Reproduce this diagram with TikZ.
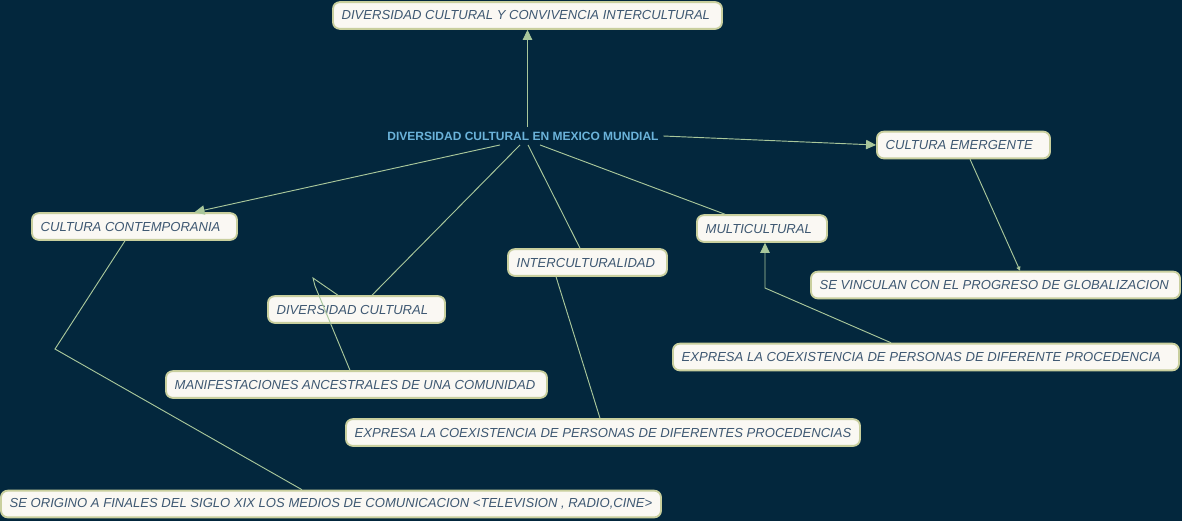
\documentclass[tikz,border=0pt]{standalone}
\usepackage{fontspec}
\setmainfont{Liberation Sans}
\usetikzlibrary{arrows.meta,positioning}
\definecolor{mpBack}{HTML}{03273D}
\definecolor{mpFill}{HTML}{FAF8F3}
\definecolor{mpEdge}{HTML}{C9CF9E}
\definecolor{mpText}{HTML}{3E5872}
\definecolor{mpHead}{HTML}{6BB3DA}
\definecolor{mpLine}{HTML}{A9C79B}

\begin{document}
\begin{tikzpicture}[x=0.75pt,y=-0.75pt,
  idea/.style={draw=mpEdge,fill=mpFill,line width=1.4pt,rounded corners=5pt,
    text width=#1-13pt,align=flush left,minimum height=20pt,inner xsep=6.5pt,inner ysep=0pt,text=mpText,
    font=\fontsize{9.8}{11}\selectfont\itshape},
  link/.style={mpLine,line width=0.7pt},
  arr/.style={link,-{Triangle[width=7pt,length=7.5pt]}}]
\fill[mpBack] (0,0) rectangle (1182,521);
\node[font=\fontsize{9}{10}\selectfont\bfseries,text=mpHead] (main) at (523,136) {DIVERSIDAD CULTURAL EN MEXICO MUNDIAL};
\node[idea=291.75pt] (conv) at (527.5,15.5) {DIVERSIDAD CULTURAL Y CONVIVENCIA INTERCULTURAL};
\node[idea=129.75pt] (emer) at (963.5,145) {CULTURA EMERGENTE};
\node[idea=153.75pt] (cont) at (134.5,226.5) {CULTURA CONTEMPORANIA};
\node[idea=132.75pt] (div) at (356.5,309.5) {DIVERSIDAD CULTURAL};
\node[idea=119.25pt] (inter) at (587.5,262.5) {INTERCULTURALIDAD};
\node[idea=97.5pt] (multi) at (762,228.5) {MULTICULTURAL};
\node[idea=276.75pt] (vinc) at (995.5,285) {SE VINCULAN CON EL PROGRESO DE GLOBALIZACION};
\node[idea=379.5pt] (expA) at (926,357) {EXPRESA LA COEXISTENCIA DE PERSONAS DE DIFERENTE PROCEDENCIA};
\node[idea=285.75pt] (manif) at (356.5,384.5) {MANIFESTACIONES ANCESTRALES DE UNA COMUNIDAD};
\node[idea=385.5pt] (expB) at (603,432.5) {EXPRESA LA COEXISTENCIA DE PERSONAS DE DIFERENTES PROCEDENCIAS};
\node[idea=495pt] (orig) at (331,504) {SE ORIGINO A FINALES DEL SIGLO XIX LOS MEDIOS DE COMUNICACION <TELEVISION , RADIO,CINE>};
\coordinate (bendA) at (55,349);
\coordinate (bendB) at (315,286);
\coordinate (kinkB) at (313,278);
\coordinate (bendC) at (765,288);
\draw[arr] (main.north -| conv.south) -- (conv.south);
\draw[arr] (main.east) -- (emer.west);
\draw[arr] ([xshift=-17.25pt]main.south) -- ([xshift=45pt]cont.north);
\draw[link] ([xshift=-2.25pt]main.south) -- ([xshift=11.6pt]div.north);
\draw[link] ([xshift=3.75pt]main.south) -- ([xshift=-5.6pt]inter.north);
\draw[link] ([xshift=12.75pt]main.south) -- ([xshift=-27.75pt]multi.north);
\draw[link,-{Triangle[width=3pt,length=3pt]}] ([xshift=4.9pt]emer.south) -- ([xshift=18.4pt]vinc.north);
\draw[link] ([xshift=-7.1pt]cont.south) -- (bendA) -- ([xshift=-21.75pt]orig.north);
\draw[link] ([xshift=-4.9pt]manif.north) -- (bendB) -- (kinkB) -- ([xshift=-13.9pt]div.north);
\draw[arr] ([xshift=-26.25pt]expA.north) -- (bendC) -- (bendC |- multi.south);
\draw[link] ([xshift=-23.6pt]inter.south) -- ([xshift=-2.25pt]expB.north);
\end{tikzpicture}
\end{document}
